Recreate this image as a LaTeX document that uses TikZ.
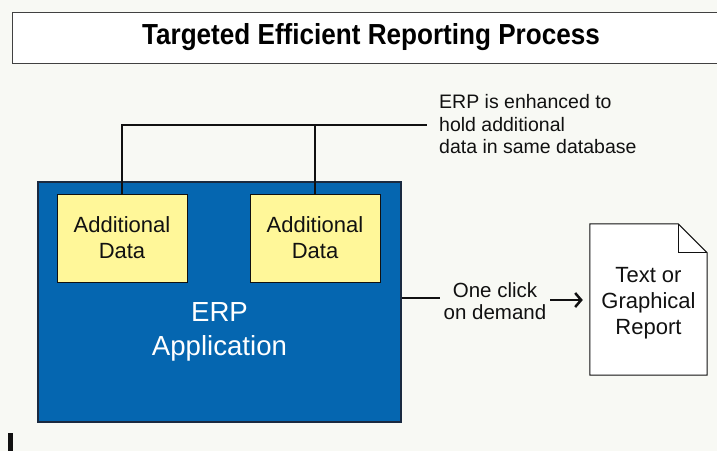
\documentclass[tikz,border=0pt]{standalone}
\usepackage{fontspec}
\setmainfont{Liberation Sans}
\newfontfamily\titlefont[FakeStretch=0.9]{Liberation Sans}
\usetikzlibrary{arrows.meta}
\definecolor{bgc}{HTML}{F8F9F4}
\definecolor{erpblue}{HTML}{0566B0}
\definecolor{erpedge}{HTML}{1A2A40}
\definecolor{datayellow}{HTML}{FFF799}
\definecolor{ink}{HTML}{111111}
\tikzset{
  titlebox/.style={draw=ink!80, line width=1pt, fill=white, minimum width=718pt, minimum height=51pt, inner sep=0pt,
    font=\titlefont\bfseries\fontsize{29}{31}\selectfont},
  erpbox/.style={draw=erpedge, line width=1.2pt, fill=erpblue, minimum width=363pt, minimum height=240pt, inner sep=0pt},
  erptext/.style={text=white, align=center, inner sep=0pt, font=\fontsize{27.6}{34}\selectfont},
  databox/.style={draw=ink, line width=1pt, fill=datayellow, minimum width=130pt, minimum height=88pt, inner sep=0pt,
    align=center, font=\fontsize{22}{26}\selectfont, text=ink},
  notetext/.style={align=left, inner sep=0pt, font=\fontsize{19.5}{22.5}\selectfont, text=ink},
  clicktext/.style={align=center, inner sep=4pt, font=\fontsize{20.5}{22}\selectfont, text=ink},
  docnode/.style={minimum width=117pt, minimum height=151pt, inner sep=0pt, align=center,
    font=\fontsize{22}{26}\selectfont, text=ink},
  doctext/.style={inner sep=0pt, align=center, font=\fontsize{22}{26}\selectfont, text=ink},
  conn/.style={draw=ink, line width=2pt},
}
\begin{document}
\begin{tikzpicture}[x=1pt,y=-1pt]
\useasboundingbox (0,0) rectangle (717,451);
\clip (0,0) rectangle (717,451);
\fill[bgc] (0,0) rectangle (717,451);
% title
\node[titlebox] (title) at (371,37.5) {Targeted Efficient Reporting Process};
% ERP application
\node[erpbox] (erp) at (219.5,302) {};
\node[erptext] (erplabel) at (219.5,331.5) {ERP\\Application};
\node[databox] (add1) at (122,238) {Additional\\Data};
\node[databox] (add2) at (315,238) {Additional\\Data};
% note
\node[notetext, anchor=west] (note) at (439,124.5) {ERP is enhanced to\\hold additional\\data in same database};
\coordinate (noteend) at ([xshift=-12pt]note.west);
\draw[conn] (add1.north) |- (noteend);
\draw[conn] (add2.north) -- (add2.north |- noteend);
% report
\node[docnode] (report) at (648.5,299.5) {};
\coordinate (fold) at ([xshift=-29pt,yshift=-29pt]report.north east);
\draw[draw=ink, line width=1pt, fill=white]
  (report.north west) -- (report.north west -| fold) -- (report.north east |- fold)
  -- (report.south east) -- (report.south west) -- cycle;
\draw[draw=ink, line width=1pt] (report.north west -| fold) -- (fold) -- (report.north east |- fold);
\node[doctext] (reportlabel) at ([yshift=-4pt]report.center) {Text or\\Graphical\\Report};
% one click
\node[clicktext] (click) at (495,301.5) {One click\\on demand};
\draw[conn] (erp.east |- 0,298) -- (click.west |- 0,298);
\draw[draw=ink, line width=2.5pt, -{Straight Barb[length=6pt,width=14pt]}, shorten >=7pt] (click.east |- 0,300) -- (report.west |- 0,300);
% small mark bottom left
\fill[ink] (8,433) rectangle (12.5,451);
\end{tikzpicture}
\end{document}
